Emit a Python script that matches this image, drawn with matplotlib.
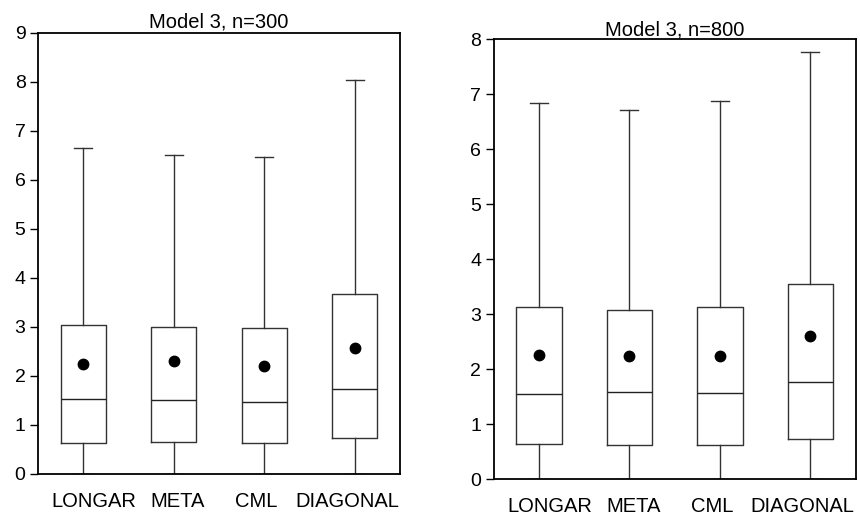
import matplotlib
matplotlib.use("Agg")
import matplotlib.pyplot as plt
from matplotlib.transforms import ScaledTranslation

plt.rcParams['font.family'] = ['Liberation Sans', 'DejaVu Sans']

METHODS = ["LONGAR", "META", "CML", "DIAGONAL"]

# n=300
LOW_300 = [0.0, 0.0, 0.0, 0.0]
Q1_300 = [0.63, 0.65, 0.63, 0.74]
MED_300 = [1.53, 1.52, 1.46, 1.73]
Q3_300 = [3.05, 3.00, 2.98, 3.67]
HIGH_300 = [6.65, 6.50, 6.47, 8.05]
MEAN_300 = [2.25, 2.30, 2.20, 2.58]

# n=800
LOW_800 = [0.0, 0.0, 0.0, 0.0]
Q1_800 = [0.63, 0.62, 0.62, 0.73]
MED_800 = [1.55, 1.59, 1.57, 1.77]
Q3_800 = [3.12, 3.07, 3.13, 3.55]
HIGH_800 = [6.84, 6.71, 6.87, 7.77]
MEAN_800 = [2.25, 2.24, 2.23, 2.60]

# the category labels sit a bit off the box centres in the original
LABEL_SHIFT_PX = [11, 4, -8, -8]


def draw(ax, low, q1, med, q3, high, mean, ymax, title, title_pad):
    stats = []
    for i in range(len(METHODS)):
        stats.append({"whislo": low[i], "q1": q1[i], "med": med[i], "q3": q3[i],
                      "whishi": high[i], "mean": mean[i], "label": METHODS[i],
                      "fliers": []})
    line = dict(color='#333333', linewidth=1.0)
    ax.bxp(stats, positions=[1, 2, 3, 4], widths=0.5, showmeans=True,
           boxprops=line, whiskerprops=line, capprops=line,
           medianprops=dict(color='#222222', linewidth=1.0),
           meanprops=dict(marker='o', markerfacecolor='black', markeredgecolor='black',
                          markersize=7.5),
           capwidths=0.2)
    ax.set_xlim(0.5, 4.5)
    ax.set_ylim(0, ymax)
    ax.set_yticks(range(0, ymax + 1))
    ax.tick_params(axis='x', length=0, pad=13, labelsize=14.5)
    ax.tick_params(axis='y', length=6, width=1, labelsize=14, pad=3)
    for lab, dx in zip(ax.get_xticklabels(), LABEL_SHIFT_PX):
        lab.set_transform(lab.get_transform() + ScaledTranslation(dx / 100, 0, fig.dpi_scale_trans))
    for s in ax.spines.values():
        s.set_linewidth(1.3)
    ax.set_title(title, fontsize=14.5, pad=title_pad)


fig = plt.figure(figsize=(8.6, 5.17), dpi=100)
ax1 = fig.add_axes([0.0442, 0.0832, 0.421, 0.853])
ax2 = fig.add_axes([0.574, 0.0735, 0.421, 0.851])

draw(ax1, LOW_300, Q1_300, MED_300, Q3_300, HIGH_300, MEAN_300, 9, "Model 3, n=300", 4)
draw(ax2, LOW_800, Q1_800, MED_800, Q3_800, HIGH_800, MEAN_800, 8, "Model 3, n=800", 0)

fig.savefig("out.png", dpi=100)
